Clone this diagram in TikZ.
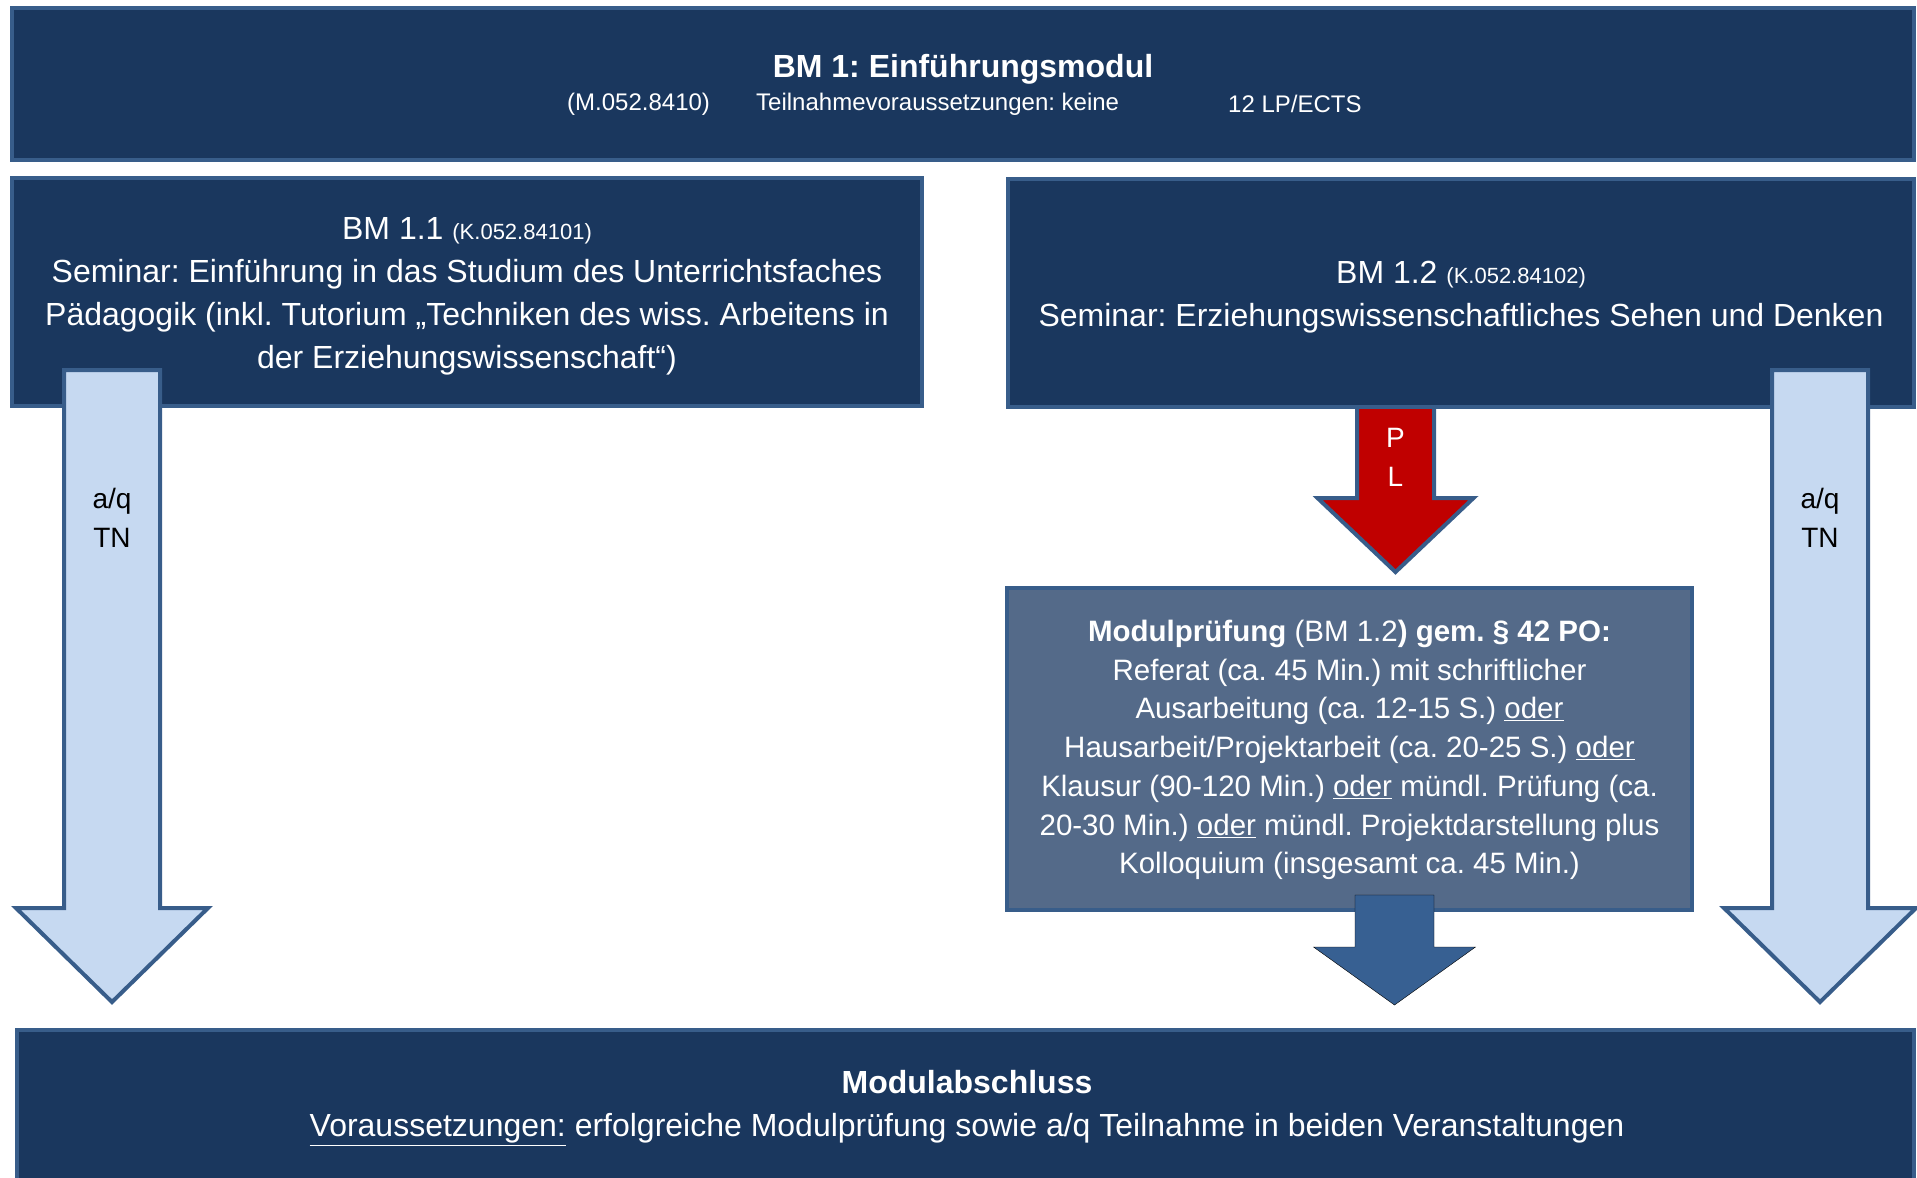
\documentclass[tikz,border=0pt]{standalone}
\usepackage{fontspec}
\setmainfont{Liberation Sans}
\frenchspacing
\definecolor{navy}{HTML}{1A375E}
\definecolor{edge}{HTML}{385D8A}
\definecolor{slate}{HTML}{546A89}
\definecolor{pale}{HTML}{C6D9F1}
\definecolor{arrowblue}{HTML}{376092}
\definecolor{plred}{HTML}{C00000}
\newcommand\blkarrow[7]{%
  \draw[#1] ({#2-#6},#3) -- ({#2+#6},#3) -- ({#2+#6},#4) -- ({#2+#7},#4) -- (#2,#5)
    -- ({#2-#7},#4) -- ({#2-#6},#4) -- cycle;}
\begin{document}
\begin{tikzpicture}[x=1pt,y=-1pt,
  box/.style={draw=edge, line width=4pt, fill=navy, text=white, align=center, inner sep=0pt},
  mpbox/.style={box, fill=slate},
  txt/.style={text=white, inner sep=0pt, align=center},
  palearrow/.style={draw=edge, line width=4pt, fill=pale},
  redarrow/.style={draw=edge, line width=4pt, fill=plred},
  bluearrow/.style={fill=arrowblue},
  big/.style={font=\fontsize{32}{43}\selectfont\frenchspacing},
  arrtxt/.style={inner sep=0pt, align=center, font=\fontsize{28}{39}\selectfont}]
\useasboundingbox (0,0) rectangle (1917,1178);
\fill[white] (0,0) rectangle (1917,1178);

% top module box
\node[box, minimum width=1902pt, minimum height=152pt] (top) at (963,84) {};
\node[txt, font=\fontsize{32}{38}\selectfont\bfseries] (title) at (963,69) {BM 1: Einführungsmodul};
\node[txt, anchor=west, font=\fontsize{24}{30}\selectfont] (code) at (567,104) {(M.052.8410)};
\node[txt, anchor=west, font=\fontsize{24}{30}\selectfont] (req) at (756,104) {Teilnahmevoraussetzungen: keine};
\node[txt, anchor=west, font=\fontsize{24}{30}\selectfont] (lp) at (1228,104) {12 LP/ECTS};

% red PL arrow (below BM 1.2 box)
\blkarrow{redarrow}{1395.5}{404}{498}{572}{38.5}{78}

% BM 1.1 and BM 1.2
\node[box, minimum width=910pt, minimum height=228pt] (bm11) at (467,292) {};
\node[txt, big] (bm11text) at (467,296)
  {BM 1.1 {\fontsize{22}{43}\selectfont(K.052.84101)}\\
   Seminar: Einführung in das Studium des Unterrichtsfaches\\
   Pädagogik (inkl. Tutorium „Techniken des wiss. Arbeitens in\\
   der Erziehungswissenschaft“)};
\node[box, minimum width=906pt, minimum height=228pt] (bm12) at (1461,293) {};
\node[txt, big] (bm12text) at (1461,297)
  {BM 1.2 {\fontsize{22}{43}\selectfont(K.052.84102)}\\
   Seminar: Erziehungswissenschaftliches Sehen und Denken};

% pale a/q TN arrows
\blkarrow{palearrow}{112}{370}{908}{1002}{48}{96}
\blkarrow{palearrow}{1820}{370}{908}{1002}{48}{96}
\node[arrtxt] (aqleft) at (112,518) {a/q\\TN};
\node[arrtxt] (aqright) at (1820,518) {a/q\\TN};
\node[arrtxt, text=white] (pl) at (1395.5,457) {P\\L};

% Modulpruefung box
\node[mpbox, minimum width=685pt, minimum height=322pt] (mp) at (1349.5,749) {};
\node[txt, font=\fontsize{29.5}{38.7}\selectfont\frenchspacing] (mptext) at (1349.5,750)
  {\textbf{Modulprüfung} (BM 1.2\textbf{) gem. § 42 PO:}\\
   Referat (ca. 45 Min.) mit schriftlicher\\
   Ausarbeitung (ca. 12-15 S.) \underline{oder}\\
   Hausarbeit/Projektarbeit (ca. 20-25 S.) \underline{oder}\\
   Klausur (90-120 Min.) \underline{oder} mündl. Prüfung (ca.\\
   20-30 Min.) \underline{oder} mündl. Projektdarstellung plus\\
   Kolloquium (insgesamt ca. 45 Min.)};

% blue arrow to Modulabschluss
\blkarrow{bluearrow}{1394.5}{895}{947}{1005}{39.5}{81}

% Modulabschluss
\node[box, minimum width=1897pt, minimum height=160pt] (bottom) at (965.5,1110) {};
\node[txt, big] (ende) at (967,1108)
  {\textbf{Modulabschluss}\\
   \underline{Voraussetzungen:} erfolgreiche Modulprüfung sowie a/q Teilnahme in beiden Veranstaltungen};
\end{tikzpicture}
\end{document}
